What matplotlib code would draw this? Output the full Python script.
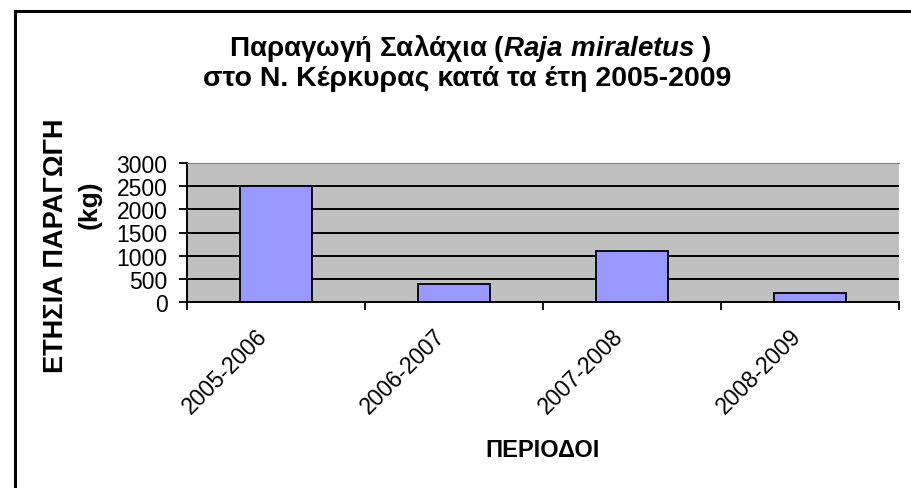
import matplotlib.pyplot as plt
from matplotlib.lines import Line2D
import numpy as np

plt.rcParams['font.family'] = ['Liberation Sans', 'DejaVu Sans']
plt.rcParams['mathtext.fontset'] = 'custom'
plt.rcParams['mathtext.bfit'] = 'Liberation Sans:bold:italic'
plt.rcParams['mathtext.bf'] = 'Liberation Sans:bold'

periods = ["2005-2006", "2006-2007", "2007-2008", "2008-2009"]
production_kg = [2500, 390, 1090, 200]
y_ticks = [0, 500, 1000, 1500, 2000, 2500, 3000]

title_line1 = r"Παραγωγή Σαλάχια ($\mathbfit{Raja\ miraletus}$ )"
title_line2 = "στο Ν. Κέρκυρας κατά τα έτη 2005-2009"


def plot_production():
    fig = plt.figure(figsize=(9.12, 4.89), dpi=100)
    fig.patch.set_facecolor("white")

    # frame lines around the chart area
    fig.add_artist(Line2D([15 / 912, 15 / 912], [0, 1 - 12 / 489], color="black", lw=2.2))
    fig.add_artist(Line2D([15 / 912, 1], [1 - 12 / 489, 1 - 12 / 489], color="black", lw=2.2))

    ax = fig.add_axes([187 / 912, 1 - 303 / 489, (899 - 187) / 912, (303 - 164) / 489])
    ax.set_facecolor("#C0C0C0")

    x = np.arange(len(periods))
    ax.bar(x, production_kg, width=0.4, color="#9999FF", edgecolor="black",
           linewidth=1.3, zorder=3)

    ax.set_xlim(-0.5, len(periods) - 0.5)
    ax.set_ylim(0, 3000)
    ax.set_yticks(y_ticks)
    ax.set_yticklabels([str(v) for v in y_ticks], fontsize=16.5)
    ax.yaxis.grid(True, color="black", linewidth=1.4, zorder=1)
    ax.set_axisbelow(True)

    # ticks sit on the category boundaries, labels are placed under each bar
    ax.set_xticks(np.arange(-0.5, len(periods), 1.0))
    ax.set_xticklabels([])
    for i, period in enumerate(periods):
        ax.annotate(period, xy=(x[i], 0), xycoords=("data", "axes fraction"),
                    xytext=(-14.5, -16), textcoords="offset points",
                    rotation=45, rotation_mode="anchor", ha="right", va="top",
                    fontsize=16.5, annotation_clip=False)
    ax.tick_params(axis="x", which="major", length=6, width=1.3, direction="out")
    ax.tick_params(axis="y", length=6, width=1.3, direction="out", pad=8)

    ax.spines["left"].set_color("black")
    ax.spines["bottom"].set_color("black")
    ax.spines["left"].set_linewidth(1.4)
    ax.spines["bottom"].set_linewidth(1.4)
    ax.spines["top"].set_color("#808080")
    ax.spines["right"].set_visible(False)

    fig.text(470 / 912, 1 - 48 / 489, title_line1, ha="center", va="center",
             fontsize=20, fontweight="bold")
    fig.text(467 / 912, 1 - 79 / 489, title_line2, ha="center", va="center",
             fontsize=20.5, fontweight="bold")

    fig.text(56 / 912, 1 - 246 / 489, "ΕΤΗΣΙΑ ΠΑΡΑΓΩΓΗ", rotation=90, ha="center",
             va="center", fontsize=19.5, fontweight="bold")
    fig.text(90 / 912, 1 - 205 / 489, "(kg)", rotation=90, ha="center",
             va="center", fontsize=19, fontweight="bold")

    fig.text(543 / 912, 1 - 451 / 489, "ΠΕΡΙΟΔΟΙ", ha="center", va="center",
             fontsize=17, fontweight="bold")

    fig.savefig("out.png", dpi=100, facecolor="white")


if __name__ == "__main__":
    plot_production()
